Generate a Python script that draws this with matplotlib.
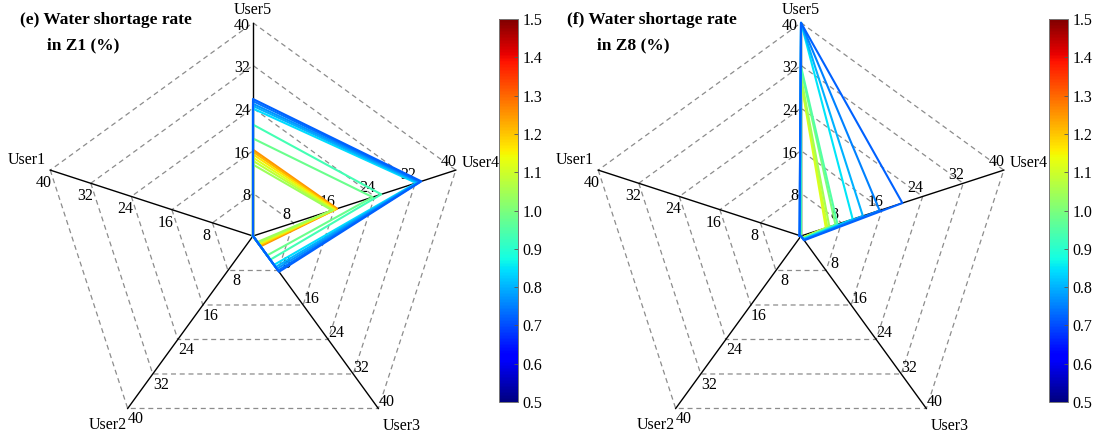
import numpy as np
import matplotlib
matplotlib.use("Agg")
import matplotlib.pyplot as plt
from matplotlib import cm, colors

plt.rcParams["font.family"] = ["Liberation Serif", "DejaVu Serif"]

users = ["User1", "User2", "User3", "User4", "User5"]
angles_deg = [162, 234, 306, 18, 90]
rings = [8, 16, 24, 32, 40]

# Z1: colour value and water shortage rate (%) at each user
z1_c = [0.72, 0.74, 0.77, 0.80, 0.84, 0.93, 0.98, 1.25, 1.22, 1.17, 1.12, 1.08, 1.04]
z1_u1 = [0, 0, 0, 0, 0, 0, 0, 0, 0, 0, 0, 0, 0]
z1_u2 = [0, 0, 0, 0, 0, 0, 0, 0, 0, 0, 0, 0, 0]
z1_u3 = [8.3, 8.0, 7.6, 7.2, 6.7, 5.5, 4.5, 2.4, 2.2, 2.0, 1.8, 1.6, 1.4]
z1_u4 = [33.2, 33.0, 32.8, 32.5, 32.2, 25.3, 23.6, 16.6, 16.4, 16.2, 16.0, 15.8, 15.6]
z1_u5 = [25.7, 25.3, 24.8, 24.4, 23.9, 20.9, 18.3, 16.2, 15.8, 15.3, 14.7, 14.1, 13.4]

# Z8
z8_c = [0.72, 0.75, 0.80, 0.85, 0.95, 1.00, 1.05, 1.10, 1.12]
z8_u1 = [0.3, 0.3, 0.2, 0.2, 0, 0, 0, 0, 0]
z8_u2 = [0, 0, 0, 0, 0, 0, 0, 0, 0]
z8_u3 = [1.0, 0.9, 0.8, 0.7, 0.6, 0.5, 0.5, 0.4, 0.4]
z8_u4 = [20.0, 15.5, 12.2, 10.2, 7.2, 6.8, 5.6, 5.2, 4.9]
z8_u5 = [40, 40, 40, 40, 31.8, 31.3, 29.8, 29.3, 29.0]

W, H, S = 1097, 438, 5.33
fig = plt.figure(figsize=(W / 100, H / 100), dpi=100)
cmap = plt.get_cmap("jet")
norm = colors.Normalize(0.5, 1.5)
th = np.deg2rad(angles_deg)

# per-axis tick-label offsets (pixels) and axis-name placement
tick_off = [(-6, -13), (8, -11), (8, 6), (-7, 8), (-3, -3)]
name_off = [((-4, 10), "right"), ((-1, -17), "right"), ((4, -18), "left"),
            ((6, 7), "left"), ((0, 13), "center")]


def radar(x0, x1, cx, cy, series, cvals, title1, title2, tx1, tx2):
    ax = fig.add_axes([x0 / W, 0, (x1 - x0) / W, 1])
    ax.set_xlim((x0 - cx) / S, (x1 - cx) / S)
    ax.set_ylim((cy - H) / S, cy / S)
    ax.axis("off")
    for r in rings:
        xs = np.append(r * np.cos(th), r * np.cos(th[0]))
        ys = np.append(r * np.sin(th), r * np.sin(th[0]))
        ax.plot(xs, ys, color="#8c8c8c", lw=0.9, ls=(0, (4, 3)), zorder=1)
    for k, a in enumerate(th):
        ax.plot([0, 40 * np.cos(a)], [0, 40 * np.sin(a)], color="black", lw=1.0, zorder=2)
        for r in rings:
            ha = "right" if k == 4 else "center"
            ax.annotate(str(r), (r * np.cos(a), r * np.sin(a)), xytext=tick_off[k],
                        textcoords="offset pixels", ha=ha, va="center", fontsize=11.5)
        off, ha = name_off[k]
        ax.annotate(users[k], (40 * np.cos(a), 40 * np.sin(a)), xytext=off,
                    textcoords="offset pixels", ha=ha, va="center", fontsize=11.5,
                    annotation_clip=False)
    order = np.argsort(cvals)[::-1]
    for i in order:
        vals = np.array([s[i] for s in series])
        xs = np.append(vals * np.cos(th), vals[0] * np.cos(th[0]))
        ys = np.append(vals * np.sin(th), vals[0] * np.sin(th[0]))
        ax.plot(xs, ys, color=cmap(norm(cvals[i])), lw=1.5, zorder=3)
    fig.text(tx1 / W, 1 - 20 / H, title1, fontsize=12.5, fontweight="bold", va="center")
    fig.text(tx2 / W, 1 - 45 / H, title2, fontsize=12.5, fontweight="bold", va="center")


def cbar(px):
    cax = fig.add_axes([px / W, 1 - 402 / H, 19 / W, 383 / H])
    cb = fig.colorbar(cm.ScalarMappable(norm=norm, cmap=cmap), cax=cax)
    cb.set_ticks(np.arange(0.5, 1.51, 0.1))
    cb.ax.set_yticklabels([f"{v:.1f}" for v in np.arange(0.5, 1.51, 0.1)])
    cb.ax.tick_params(direction="in", length=3, width=0.6, labelsize=11.5, color="#555555")
    cb.outline.set_edgecolor("#777777")
    cb.outline.set_linewidth(0.7)


radar(0, 490, 253, 236, [z1_u1, z1_u2, z1_u3, z1_u4, z1_u5], z1_c,
      "(e) Water shortage rate", "in Z1 (%)", 20, 47)
radar(545, 1040, 801, 236, [z8_u1, z8_u2, z8_u3, z8_u4, z8_u5], z8_c,
      "(f) Water shortage rate", "in Z8 (%)", 567, 597)
cbar(499)
cbar(1049)

fig.savefig("out.png", dpi=100)
